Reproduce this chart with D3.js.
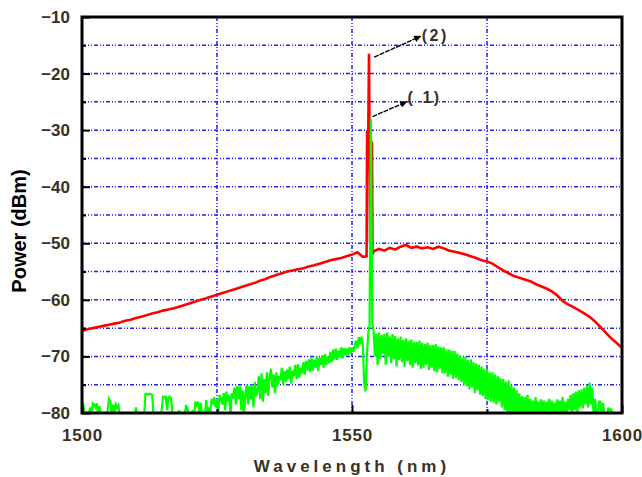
<!DOCTYPE html>
<html>
<head>
<meta charset="utf-8">
<script src="https://cdnjs.cloudflare.com/ajax/libs/d3/7.8.5/d3.min.js"></script>
<style>
  body { margin: 0; background: #fff; }
  text { font-family: Arial, "Liberation Sans", sans-serif; font-weight: bold; }
</style>
</head>
<body>
<div id="chart"></div>
<script>
// Axis ticks
const xMajor = [1500, 1550, 1600];
const xMinor = [1525, 1575];
const yMajor = [-80, -70, -60, -50, -40, -30, -20, -10];
const yMinor = [-75, -65, -55, -45, -35, -25, -15];

// Curve (2), red: broad ASE hump, sampled every 1 nm from 1500 to 1600
const redDb = [
  -65.5, -65.2, -65.0, -64.8, -64.6, -64.4, -64.2, -64.0, -63.7, -63.5,
  -63.2, -63.0, -62.7, -62.4, -62.2, -61.9, -61.7, -61.5, -61.2, -60.9,
  -60.6, -60.3, -60.0, -59.7, -59.4, -59.1, -58.8, -58.5, -58.2, -57.9,
  -57.6, -57.3, -57.0, -56.6, -56.3, -55.9, -55.6, -55.3, -55.0, -54.8,
  -54.6, -54.4, -54.1, -53.9, -53.6, -53.3, -53.0, -52.8, -52.6, -52.3,
  -52.0, -51.6, -52.4, -52.2, -51.4, -51.0, -51.3, -50.8, -51.1, -50.6,
  -50.3, -50.8, -50.6, -50.9, -50.7, -51.0, -50.6, -50.9, -51.3, -51.5,
  -51.7, -52.0, -52.3, -52.6, -53.0, -53.2, -53.6, -54.2, -54.8, -55.3,
  -55.8, -56.1, -56.4, -56.7, -57.2, -57.6, -58.0, -58.5, -59.2, -60.2,
  -60.8, -61.3, -61.8, -62.4, -63.0, -63.8, -64.8, -65.8, -66.8, -67.6,
  -68.5
];
// red laser line
const redSpikeWl = [1552.7, 1552.8, 1552.95, 1553.15, 1553.35, 1553.7, 1553.8];
const redSpikeDb = [-52.3, -30, -37, -16.5, -50, -32, -52];

// Curve (1), green: sampled every 0.25 nm from 1500 to 1600 (-80.5 = below floor)
const greenDb = [
  -78, -78.5, -80.5, -80.5,  -80.5, -80.5, -79, -80.5,  -78.3, -78.5, -79, -78.3,  -80.5, -78.8, -80.5, -80.5,  -80.5, -80.5, -80.5, -79.5,
  -77.5, -78, -80.5, -78.5,  -80.5, -78.5, -79, -78.6,  -80.5, -80.5, -80.5, -80.5,  -80.5, -80.5, -80.5, -80.5,  -80.5, -80.5, -80.5, -80.5,
  -79, -80.5, -80.5, -80.5,  -80.5, -80.5, -80.5, -76.6,  -76.6, -76.8, -76.6, -76.7,  -76.8, -80.5, -80.5, -80.5,  -80.5, -80.5, -80.5, -79.5,
  -77.1, -77.2, -77.1, -79.5,  -77.3, -77.1, -77.4, -80.5,  -80.5, -80.5, -80.5, -80.5,  -79.5, -80.5, -80.5, -80.5,  -80.5, -78.8, -79, -80.5,
  -80.5, -80.5, -79.5, -80.5,  -78, -78.6, -78, -80.5,  -78.2, -80.5, -80.5, -80.5,  -77.7, -80.5, -79, -80.5,  -77.5, -78.5, -77.2, -79,
  -77.5, -80, -76.8, -77.5,  -78.5, -76.5, -79.5, -76.2,  -78, -76.8, -80.5, -76.5,  -77, -75.5, -78.5, -75.2,  -77.5, -75.3, -79.5, -76,
  -80.5, -76.5, -75, -78.5,  -75.2, -77.5, -75, -79,  -74.5, -77, -76, -73.5,  -77.5, -73, -78, -74,  -76.5, -72.8, -77, -73.5,
  -72.2, -75.5, -73.2, -76.5,  -72.8, -75, -73.5, -74.2,  -72, -75, -72.6, -74.5,  -72.3, -74, -71.8, -74.8,  -72.5, -73.5, -71.5, -74,
  -71.4, -73.8, -72, -73,  -71, -73.2, -70.8, -72.5,  -70.5, -72.8, -70.2, -72.5,  -70.6, -72, -70, -72.6,  -70.2, -71.5, -69.8, -72,
  -69.6, -71.5, -70, -71.2,  -69.2, -71, -68.8, -70.5,  -68.6, -70.6, -69, -70.2,  -68.4, -70.4, -68.5, -69.8,  -68.6, -69.9, -68.4, -69.5,
  -68.4, -69.2, -68, -67.2,  -68.6, -66.6, -67.8, -66.5,  -68, -74.5, -76.2, -70,  -66, -64.5, -28, -64,  -65.6, -70, -66, -71.5,
  -65.8, -70.5, -66.2, -69.5,  -66, -71.5, -65.8, -70,  -66.5, -71.2, -66, -70.5,  -66.4, -71.8, -66.8, -70.6,  -66.5, -71, -67, -71.8,
  -66.8, -70.8, -67.2, -71.5,  -67, -72, -67.4, -71.2,  -67.4, -71.6, -67.2, -72.2,  -67.6, -72, -67.8, -71.5,  -67.6, -72.4, -68, -72,
  -68, -72.6, -67.8, -72.8,  -68.2, -72.2, -68.4, -73,  -68.4, -73, -68.8, -73.6,  -68.8, -73.2, -69, -74,  -69, -73.8, -69.5, -74.2,
  -69.8, -74.5, -70.2, -75,  -70, -75.2, -70.6, -75.8,  -70.5, -75.5, -71, -76.5,  -71.2, -76, -71.5, -76.8,  -71.8, -77, -72.2, -77.5,
  -72.2, -77.8, -72.8, -78,  -72.8, -78.2, -73.2, -78.5,  -73.5, -78, -73.8, -79,  -74, -79.5, -74.5, -80.5,  -74.2, -80, -75, -80.5,
  -75.5, -80.5, -76, -80.5,  -76.5, -80.5, -77, -80.5,  -77.2, -80.5, -76.8, -80.5,  -77.5, -80, -77.8, -80.5,  -77.2, -80.5, -78, -80.5,
  -77.6, -80.5, -77.8, -80.5,  -78, -80.5, -77.5, -80.5,  -77.8, -80.5, -78.2, -80.5,  -77.6, -80.5, -77.8, -80.5,  -77.2, -80.5, -78, -80.5,
  -77.5, -79.5, -76.8, -80,  -76.5, -79.5, -76.2, -79.8,  -76, -79, -75.8, -79.2,  -75.5, -78.5, -75.2, -79,  -74.6, -78.5, -75.5, -80.5,
  -77.5, -80.5, -80.5, -78,  -78, -80.5, -78.2, -80.5,  -80.5, -80.5, -79, -80.5,  -79.2, -80.5, -80.5, -80.5,  -80.5, -80.5, -80.5, -80.5,
  -80.5
];

// Annotation labels and arrows, in data units
const notes = [
  { label: "(2)",  from: [1554.1, -17.1], to: [1562.7, -13.4], at: [1562.9, -13.2] },
  { label: "( 1)", from: [1553.8, -27.6], to: [1560.1, -25.0], at: [1560.3, -24.3] }
];

const W = 642, H = 477;
const svg = d3.select("#chart").append("svg")
  .attr("width", W).attr("height", H);

const x = d3.scaleLinear().domain([1500, 1600]).range([82, 622]);
const y = d3.scaleLinear().domain([-80, -10]).range([413, 17]);

const labelColor = "#3a3020";
const gridColor = "#1f1fff";

svg.append("clipPath").attr("id", "plot")
  .append("rect")
  .attr("x", x(1500)).attr("y", y(-10))
  .attr("width", x(1600) - x(1500)).attr("height", y(-80) - y(-10));

// gridlines
const grid = svg.append("g")
  .attr("stroke", gridColor)
  .attr("stroke-width", 1.5)
  .attr("stroke-dasharray", "4,2,1,2,1,2");
grid.selectAll("line.h")
  .data(yMinor.concat(yMajor.slice(1, -1)))
  .join("line")
  .attr("class", "h")
  .attr("x1", x(1500)).attr("x2", x(1600))
  .attr("y1", d => y(d)).attr("y2", d => y(d));
grid.selectAll("line.v")
  .data(xMinor.concat(xMajor.slice(1, -1)))
  .join("line")
  .attr("class", "v")
  .attr("y1", y(-10)).attr("y2", y(-80))
  .attr("x1", d => x(d)).attr("x2", d => x(d));

// red curve (2)
const redPts = redDb.map((v, i) => [1500 + i, v])
  .filter(p => Math.abs(p[0] - 1553.25) > 0.6)
  .concat(redSpikeWl.map((w, i) => [w, redSpikeDb[i]]))
  .sort((a, b) => a[0] - b[0]);

const line = d3.line().x(d => x(d[0])).y(d => y(d[1]));

const curves = svg.append("g").attr("clip-path", "url(#plot)");
curves.append("path")
  .datum(redPts)
  .attr("fill", "none")
  .attr("stroke", "#ff0000")
  .attr("stroke-width", 2.6)
  .attr("d", line);

// green curve (1)
const greenPts = greenDb.map((v, i) => [1500 + i * 0.25, v]);
curves.append("path")
  .datum(greenPts)
  .attr("fill", "none")
  .attr("stroke", "#00ff00")
  .attr("stroke-width", 2.2)
  .attr("d", line);

// axes: ticks inside, labels outside
function styleAxis(g) {
  g.select(".domain").remove();
  g.selectAll(".tick line").attr("stroke", "#000").attr("stroke-width", 2);
  g.selectAll(".tick text")
    .attr("fill", labelColor)
    .style("font-size", "17px")
    .style("font-weight", "bold");
}

svg.append("g")
  .attr("transform", `translate(${x(1500)},0)`)
  .call(d3.axisLeft(y).tickValues(yMajor).tickSize(-8).tickPadding(12).tickFormat(d3.format("d")))
  .call(styleAxis);
svg.append("g")
  .attr("transform", `translate(${x(1500)},0)`)
  .call(d3.axisLeft(y).tickValues(yMinor).tickSize(-4).tickFormat(""))
  .call(styleAxis);

const xAx = svg.append("g")
  .attr("transform", `translate(0,${y(-80)})`)
  .call(d3.axisBottom(x).tickValues(xMajor).tickSize(-8).tickPadding(12).tickFormat(d3.format("d")))
  .call(styleAxis);
xAx.selectAll(".tick text").style("letter-spacing", "0.8px").attr("dy", "0.95em");
svg.append("g")
  .attr("transform", `translate(0,${y(-80)})`)
  .call(d3.axisBottom(x).tickValues(xMinor).tickSize(-4).tickFormat(""))
  .call(styleAxis);

// frame
svg.append("rect")
  .attr("x", x(1500)).attr("y", y(-10))
  .attr("width", x(1600) - x(1500)).attr("height", y(-80) - y(-10))
  .attr("fill", "none")
  .attr("stroke", "#000")
  .attr("stroke-width", 3);

// annotations
svg.append("defs").append("marker")
  .attr("id", "head")
  .attr("viewBox", "0 0 10 10")
  .attr("refX", 9).attr("refY", 5)
  .attr("markerWidth", 7).attr("markerHeight", 5)
  .attr("orient", "auto")
  .append("path").attr("d", "M0,0L10,5L0,10z").attr("fill", "#000");

svg.selectAll("line.arrow")
  .data(notes)
  .join("line")
  .attr("class", "arrow")
  .attr("x1", d => x(d.from[0])).attr("y1", d => y(d.from[1]))
  .attr("x2", d => x(d.to[0])).attr("y2", d => y(d.to[1]))
  .attr("stroke", "#000")
  .attr("stroke-width", 1.4)
  .attr("stroke-dasharray", "5,1")
  .attr("marker-end", "url(#head)");

svg.selectAll("text.note")
  .data(notes)
  .join("text")
  .attr("class", "note")
  .attr("x", d => x(d.at[0])).attr("y", d => y(d.at[1]))
  .attr("dy", "0.35em")
  .attr("fill", labelColor)
  .style("font-size", "16px")
  .style("letter-spacing", "2.5px")
  .text(d => d.label);

// axis titles
svg.append("text")
  .attr("transform", `translate(26,${(y(-10) + y(-80)) / 2 + 16}) rotate(-90)`)
  .attr("text-anchor", "middle")
  .attr("fill", "#000")
  .style("font-size", "20px")
  .text("Power (dBm)");

svg.append("text")
  .attr("x", (x(1500) + x(1600)) / 2)
  .attr("y", 472)
  .attr("text-anchor", "middle")
  .attr("fill", labelColor)
  .style("font-size", "17px")
  .style("letter-spacing", "4px")
  .text("Wavelength (nm)");
</script>
</body>
</html>
